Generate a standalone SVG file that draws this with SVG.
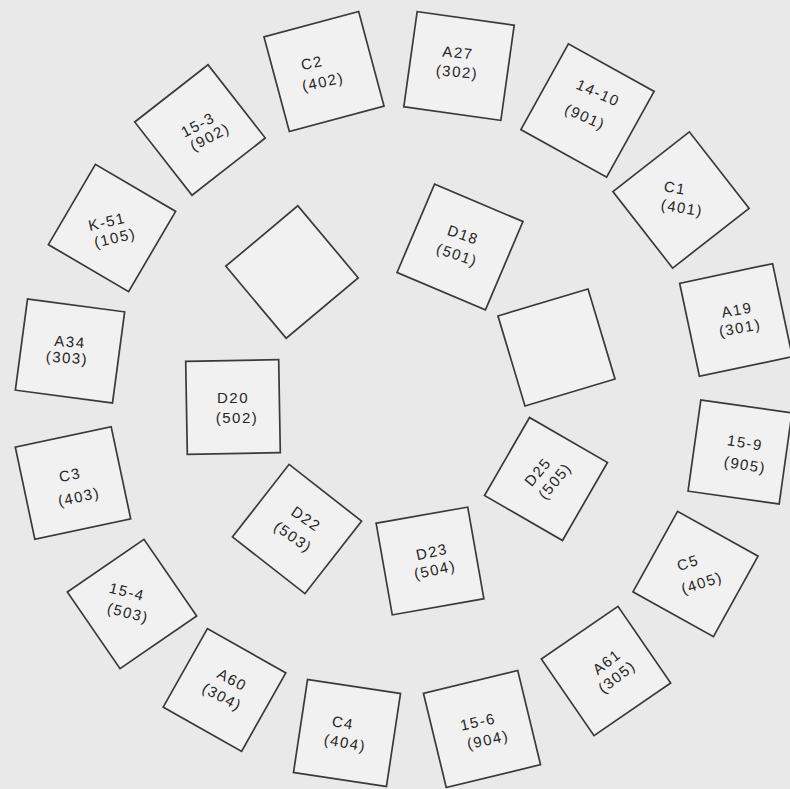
<svg xmlns="http://www.w3.org/2000/svg" width="790" height="789" viewBox="0 0 790 789">
<style>
.bg{fill:#e9e9e9}
.sq{fill:#f1f1f1;stroke:#3a3a3a;stroke-width:1.7}
.lb{font-family:"Liberation Sans",Arial,sans-serif;font-size:15px;fill:#262626;text-anchor:middle;letter-spacing:1.5px}
</style>
<rect class="bg" x="0" y="0" width="790" height="789"/>
<g id="connectors"/>
<g id="n-C2"><rect class="sq" x="-49" y="-49" width="98" height="98" transform="translate(324,71.5) rotate(-15)"/>
<text class="lb" transform="translate(312,63) rotate(-12)" y="5">C2</text>
<text class="lb" transform="translate(323,82) rotate(-12)" y="5">(402)</text></g>
<g id="n-A27"><rect class="sq" x="-49" y="-48" width="98" height="96" transform="translate(459,66) rotate(8)"/>
<text class="lb" transform="translate(458,53) rotate(5)" y="5">A27</text>
<text class="lb" transform="translate(457,72) rotate(5)" y="5">(302)</text></g>
<g id="n-14-10"><rect class="sq" x="-49" y="-49" width="98" height="98" transform="translate(587.5,110.5) rotate(29)"/>
<text class="lb" transform="translate(598,93) rotate(24)" y="5">14-10</text>
<text class="lb" transform="translate(585,117) rotate(24)" y="5">(901)</text></g>
<g id="n-C1"><rect class="sq" x="-48.5" y="-48.5" width="97" height="97" transform="translate(681,200) rotate(52)"/>
<text class="lb" transform="translate(675,188) rotate(9)" y="5">C1</text>
<text class="lb" transform="translate(682,208) rotate(9)" y="5">(401)</text></g>
<g id="n-A19"><rect class="sq" x="-47.5" y="-47.5" width="95" height="95" transform="translate(736,320) rotate(-12)"/>
<text class="lb" transform="translate(737,310) rotate(-10)" y="5">A19</text>
<text class="lb" transform="translate(740,328) rotate(-10)" y="5">(301)</text></g>
<g id="n-15-9"><rect class="sq" x="-46" y="-46" width="92" height="92" transform="translate(740,452) rotate(8)"/>
<text class="lb" transform="translate(745,443) rotate(9)" y="5">15-9</text>
<text class="lb" transform="translate(745,465) rotate(9)" y="5">(905)</text></g>
<g id="n-C5"><rect class="sq" x="-46" y="-46" width="92" height="92" transform="translate(695.5,574) rotate(29)"/>
<text class="lb" transform="translate(688,563) rotate(-18)" y="5">C5</text>
<text class="lb" transform="translate(702,583) rotate(-18)" y="5">(405)</text></g>
<g id="n-A61"><rect class="sq" x="-46.5" y="-46.5" width="93" height="93" transform="translate(606,671) rotate(-34.5)"/>
<text class="lb" transform="translate(607,662) rotate(-38)" y="5">A61</text>
<text class="lb" transform="translate(617,677) rotate(-38)" y="5">(305)</text></g>
<g id="n-15-6"><rect class="sq" x="-48.5" y="-48.5" width="97" height="97" transform="translate(482,729) rotate(-13.6)"/>
<text class="lb" transform="translate(478,722) rotate(-12)" y="5">15-6</text>
<text class="lb" transform="translate(488,740) rotate(-12)" y="5">(904)</text></g>
<g id="n-C4"><rect class="sq" x="-47" y="-47" width="94" height="94" transform="translate(347,733) rotate(8.6)"/>
<text class="lb" transform="translate(343,723) rotate(10)" y="5">C4</text>
<text class="lb" transform="translate(345,743) rotate(10)" y="5">(404)</text></g>
<g id="n-A60"><rect class="sq" x="-45" y="-45" width="90" height="90" transform="translate(224.5,690) rotate(29.4)"/>
<text class="lb" transform="translate(232,680) rotate(28)" y="5">A60</text>
<text class="lb" transform="translate(222,697) rotate(28)" y="5">(304)</text></g>
<g id="n-15-4"><rect class="sq" x="-46.5" y="-46.5" width="93" height="93" transform="translate(132,604) rotate(-34.5)"/>
<text class="lb" transform="translate(127,592) rotate(14)" y="5">15-4</text>
<text class="lb" transform="translate(128,613) rotate(14)" y="5">(503)</text></g>
<g id="n-C3"><rect class="sq" x="-49" y="-47" width="98" height="94" transform="translate(73,483) rotate(-12)"/>
<text class="lb" transform="translate(70,475) rotate(-12)" y="5">C3</text>
<text class="lb" transform="translate(79,497) rotate(-12)" y="5">(403)</text></g>
<g id="n-A34"><rect class="sq" x="-49" y="-46" width="98" height="92" transform="translate(70,351) rotate(7.6)"/>
<text class="lb" transform="translate(70,342) rotate(4)" y="5">A34</text>
<text class="lb" transform="translate(67,358) rotate(4)" y="5">(303)</text></g>
<g id="n-K-51"><rect class="sq" x="-46.5" y="-46.5" width="93" height="93" transform="translate(112,228) rotate(30.4)"/>
<text class="lb" transform="translate(107,222) rotate(-13)" y="5">K-51</text>
<text class="lb" transform="translate(115,238) rotate(-13)" y="5">(105)</text></g>
<g id="n-15-3"><rect class="sq" x="-46.5" y="-46.5" width="93" height="93" transform="translate(200,130) rotate(52)"/>
<text class="lb" transform="translate(198,125) rotate(-28)" y="5">15-3</text>
<text class="lb" transform="translate(210,137) rotate(-28)" y="5">(902)</text></g>
<g id="n-inner-1"><rect class="sq" x="-47" y="-47" width="94" height="94" transform="translate(292,272) rotate(50)"/></g>
<g id="n-D18"><rect class="sq" x="-48" y="-48" width="96" height="96" transform="translate(460,247) rotate(23)"/>
<text class="lb" transform="translate(463,235) rotate(19)" y="5">D18</text>
<text class="lb" transform="translate(457,255) rotate(19)" y="5">(501)</text></g>
<g id="n-inner-2"><rect class="sq" x="-47" y="-47" width="94" height="94" transform="translate(556.5,347.5) rotate(-16.7)"/></g>
<g id="n-D20"><rect class="sq" x="-46.5" y="-46.5" width="93" height="93" transform="translate(233,407) rotate(-1)"/>
<text class="lb" transform="translate(233,398)" y="5">D20</text>
<text class="lb" transform="translate(237,418)" y="5">(502)</text></g>
<g id="n-D22"><rect class="sq" x="-46" y="-46" width="92" height="92" transform="translate(297,529) rotate(38)"/>
<text class="lb" transform="translate(306,519) rotate(35)" y="5">D22</text>
<text class="lb" transform="translate(293,537) rotate(35)" y="5">(503)</text></g>
<g id="n-D23"><rect class="sq" x="-46.5" y="-46.5" width="93" height="93" transform="translate(430,561) rotate(-10)"/>
<text class="lb" transform="translate(432,552) rotate(-12)" y="5">D23</text>
<text class="lb" transform="translate(435,570) rotate(-12)" y="5">(504)</text></g>
<g id="n-D25"><rect class="sq" x="-45" y="-45" width="90" height="90" transform="translate(546,479) rotate(30)"/>
<text class="lb" transform="translate(538,472) rotate(-50)" y="5">D25</text>
<text class="lb" transform="translate(555,481) rotate(-50)" y="5">(505)</text></g>
</svg>
